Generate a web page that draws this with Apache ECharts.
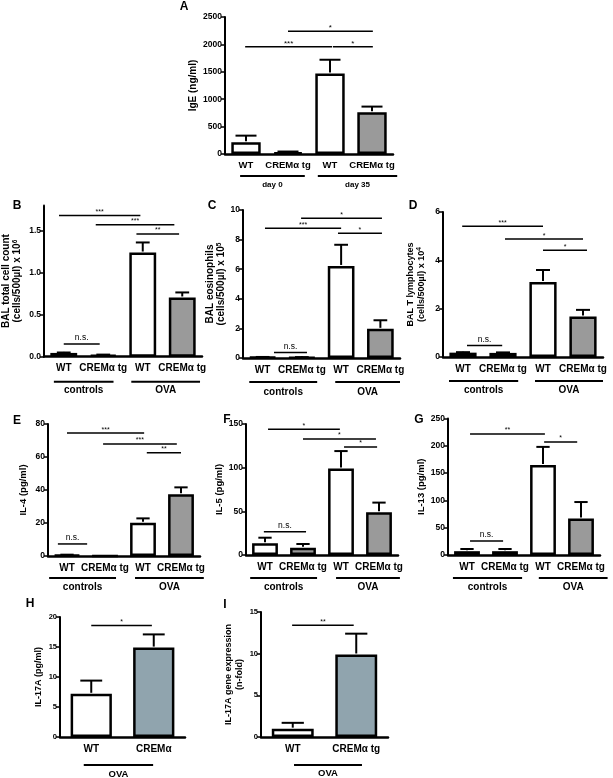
<!DOCTYPE html>
<html><head><meta charset="utf-8">
<script src="https://cdn.jsdelivr.net/npm/echarts@6/dist/echarts.min.js"></script>
<style>html,body{margin:0;padding:0;background:#fff}#c{width:613px;height:778px}</style>
</head><body><div id="c"></div>
<script>
// ---------- categories ----------
const catsFour = ['WT', 'CREMα tg', 'WT', 'CREMα tg'];
const catsH = ['WT', 'CREMα'];
const catsI = ['WT', 'CREMα tg'];
const groupsDays = ['day 0', 'day 35'];
const groupsCtrl = ['controls', 'OVA'];
const groupsOva = ['OVA'];

// ---------- values (mean, mean + SEM) ----------
const igeMean = [215, 30, 1470, 760];
const igeErr = [335, 45, 1720, 865];
const balTotalMean = [0.045, 0.02, 1.24, 0.705];
const balTotalErr = [0.05, 0.025, 1.36, 0.765];
const balEosMean = [0.06, 0.05, 6.22, 1.97];
const balEosErr = [0.07, 0.06, 7.65, 2.55];
const balTMean = [0.18, 0.17, 3.1, 1.68];
const balTErr = [0.2, 0.19, 3.6, 1.95];
const il4Mean = [0.6, 0, 20.1, 37.5];
const il4Err = [0.8, 0, 22.8, 41.6];
const il5Mean = [13.4, 8.4, 99, 49];
const il5Err = [19.8, 12.6, 119, 60];
const il13Mean = [7, 7, 165, 67];
const il13Err = [11, 11, 198, 97];
const il17Mean = [7.2, 14.9];
const il17Err = [9.4, 17.1];
const il17GeneMean = [1.0, 9.9];
const il17GeneErr = [1.7, 12.4];

// ---------- significance brackets: [from cat, to cat, y value, label] ----------
const sigA = [[1.0, 3.02, 2240, '*'], [-0.02, 2.05, 1955, '***'], [2.07, 3.02, 1955, '*']];
const sigB = [[-0.12, 1.94, 1.68, '***'], [0.81, 2.8, 1.57, '***'], [1.84, 2.92, 1.46, '**'], [0.0, 0.91, 0.15, 'n.s.']];
const sigC = [[0.98, 3.04, 9.44, '*'], [0.06, 2.0, 8.76, '***'], [1.92, 3.04, 8.43, '*'], [0.29, 1.13, 0.38, 'n.s.']];
const sigD = [[-0.02, 2.0, 5.41, '***'], [1.05, 3.0, 4.88, '*'], [2.0, 3.1, 4.42, '*'], [0.1, 0.98, 0.48, 'n.s.']];
const sigE = [[0.0, 2.03, 74.5, '***'], [0.95, 2.89, 67.9, '***'], [2.1, 3.0, 62.6, '**'], [-0.24, 0.53, 7.3, 'n.s.']];
const sigF = [[0.08, 1.97, 143.9, '*'], [1.0, 2.92, 132.8, '*'], [2.08, 2.95, 123.7, '*'], [-0.03, 1.08, 26.7, 'n.s.']];
const sigG = [[0.08, 2.05, 221.6, '**'], [2.03, 2.9, 207, '*'], [0.08, 0.95, 25.6, 'n.s.']];
const sigH = [[0.0, 0.97, 18.6, '*']];
const sigI = [[-0.01, 0.96, 13.4, '**']];

// ---------- tick values / labels ----------
const ticksIgE = [0, 500, 1000, 1500, 2000, 2500];
const ticksBalTotal = [0, 0.5, 1.0, 1.5];
const tickLabelsBalTotal = ['0.0', '0.5', '1.0', '1.5'];
const ticksEos = [0, 2, 4, 6, 8, 10];
const ticksT = [0, 2, 4, 6];
const ticksIL4 = [0, 20, 40, 60, 80];
const ticksIL5 = [0, 50, 100, 150];
const ticksIL13 = [0, 50, 100, 150, 200, 250];
const ticksIL17 = [0, 5, 10, 15, 20];
const ticksIL17Gene = [0, 5, 10, 15];

// ---------- styling / layout ----------
const FONT = '"Liberation Sans", Arial, sans-serif';
const WHITE = '#ffffff', GREY = '#9a9a9a', BLUEGREY = '#90a4ae';
const fillFour = [WHITE, GREY, WHITE, GREY];
const fillTwo = [WHITE, BLUEGREY];

const panels = [
  {letter: 'A', lpos: [184, 7], cats: catsFour, mean: igeMean, err: igeErr, fills: fillFour, ticks: ticksIgE, max: 2500,
   grid: [225, 17, 168, 137], name: 'IgE (ng/ml)', nameGap: 26, nameFont: 10, yFont: 8.5, xFont: 9.5, xMargin: 6,
   barW: '70%', cap: 0.5, sig: sigA, sigFont: 8, groups: groupsDays, spans: [[-0.14, 1.40], [1.71, 3.6]], gOff: [22, 31], gFont: 8},
  {letter: 'B', lpos: [17, 206], cats: catsFour, mean: balTotalMean, err: balTotalErr, fills: fillFour, ticks: ticksBalTotal, tickLabels: tickLabelsBalTotal, max: 1.8,
   grid: [43, 205.5, 159, 151.2], name: 'BAL total cell count\n(cells/500µl) x 10{sup|6}', nameGap: 21, nameFont: 10, yFont: 8.5, xFont: 10, xMargin: 7,
   barW: '68%', cap: 0.35, sig: sigB, sigFont: 7, groups: groupsCtrl, spans: [[-0.25, 1.26], [1.71, 3.45]], gOff: [25, 34], gFont: 10},
  {letter: 'C', lpos: [212, 206], cats: catsFour, mean: balEosMean, err: balEosErr, fills: fillFour, ticks: ticksEos, max: 10,
   grid: [243, 210, 157, 148], name: 'BAL eosinophils\n(cells/500µl) x 10{sup|5}', nameGap: 15, nameFont: 10, yFont: 8.5, xFont: 10, xMargin: 7,
   barW: '68%', cap: 0.35, sig: sigC, sigFont: 7, groups: groupsCtrl, spans: [[-0.34, 1.39], [1.85, 3.5]], gOff: [24, 34], gFont: 10},
  {letter: 'D', lpos: [413, 206], cats: catsFour, mean: balTMean, err: balTErr, fills: fillFour, ticks: ticksT, max: 6,
   grid: [443, 212, 160, 145], name: 'BAL T lymphocytes\n(cells/500µl) x 10{sup|4}', nameGap: 16, nameFont: 9, yFont: 8.5, xFont: 10, xMargin: 7,
   barW: '68%', cap: 0.35, sig: sigD, sigFont: 7, groups: groupsCtrl, spans: [[-0.35, 1.38], [1.8, 3.5]], gOff: [24, 33], gFont: 10},
  {letter: 'E', lpos: [17, 421], cats: catsFour, mean: il4Mean, err: il4Err, fills: fillFour, ticks: ticksIL4, max: 80,
   grid: [48, 424, 152, 132], name: 'IL-4 (pg/ml)', nameGap: 19, nameFont: 9.5, yFont: 8.5, xFont: 10, xMargin: 7,
   barW: '68%', cap: 0.35, sig: sigE, sigFont: 7, groups: groupsCtrl, spans: [[-0.47, 1.29], [1.79, 3.6]], gOff: [22, 31], gFont: 10},
  {letter: 'F', lpos: [227, 420], cats: catsFour, mean: il5Mean, err: il5Err, fills: fillFour, ticks: ticksIL5, max: 150,
   grid: [246, 424, 152, 131], name: 'IL-5 (pg/ml)', nameGap: 12, nameFont: 9.5, yFont: 8.5, xFont: 10, xMargin: 7,
   barW: '68%', cap: 0.35, sig: sigF, sigFont: 7, groups: groupsCtrl, spans: [[-0.39, 1.37], [1.87, 3.55]], gOff: [23, 32], gFont: 10},
  {letter: 'G', lpos: [419, 420], cats: catsFour, mean: il13Mean, err: il13Err, fills: fillFour, ticks: ticksIL13, max: 250,
   grid: [448, 418.5, 152, 136.5], name: 'IL-13 (pg/ml)', nameGap: 20, nameFont: 9.5, yFont: 8.5, xFont: 10, xMargin: 7,
   barW: '68%', cap: 0.35, sig: sigG, sigFont: 7, groups: groupsCtrl, spans: [[-0.37, 1.45], [1.89, 3.7]], gOff: [23, 32], gFont: 10},
  {letter: 'H', lpos: [30, 604], cats: catsH, mean: il17Mean, err: il17Err, fills: fillTwo, ticks: ticksIL17, max: 20,
   grid: [60, 617, 125, 120], name: 'IL-17A (pg/ml)', nameGap: 16, nameFont: 9, yFont: 7.5, xFont: 10, xMargin: 7,
   barW: '66%', cap: 0.35, sig: sigH, sigFont: 7, groups: groupsOva, spans: [[-0.12, 0.99]], gOff: [28, 37], gFont: 9.5},
  {letter: 'I', lpos: [225, 605], cats: catsI, mean: il17GeneMean, err: il17GeneErr, fills: fillTwo, ticks: ticksIL17Gene, max: 15,
   grid: [261, 612, 127, 125], name: 'IL-17A gene expression\n(n-fold)', nameGap: 16, nameFont: 9, yFont: 7.5, xFont: 10, xMargin: 7,
   barW: '66%', cap: 0.35, sig: sigI, sigFont: 7, groups: groupsOva, spans: [[0.02, 1.09]], gOff: [28, 36], gFont: 9.5}
];

const chart = echarts.init(document.getElementById('c'), null, {renderer: 'canvas'});
const option = {animation: false, backgroundColor: '#ffffff', grid: [], xAxis: [], yAxis: [], series: [], graphic: []};

panels.forEach((p, i) => {
  option.grid.push({left: p.grid[0], top: p.grid[1], width: p.grid[2], height: p.grid[3]});
  option.xAxis.push({
    gridIndex: i, type: 'category', data: p.cats,
    axisLine: {show: true, lineStyle: {color: '#000', width: 2.5}},
    axisTick: {show: false}, splitLine: {show: false},
    axisLabel: {interval: 0, color: '#000', fontFamily: FONT, fontWeight: 'bold', fontSize: p.xFont, margin: p.xMargin}
  });
  const labels = p.tickLabels || p.ticks.map(String);
  option.yAxis.push({
    gridIndex: i, type: 'value', min: 0, max: p.max, interval: p.ticks[1] - p.ticks[0],
    axisLine: {show: true, lineStyle: {color: '#000', width: 2}},
    axisTick: {show: true, inside: false, length: 4, lineStyle: {color: '#000', width: 1.5}, customValues: p.ticks},
    splitLine: {show: false},
    axisLabel: {customValues: p.ticks, color: '#000', fontFamily: FONT, fontWeight: 'bold', fontSize: p.yFont, margin: 3,
      formatter: v => { const k = p.ticks.findIndex(t => Math.abs(t - v) < 1e-9); return k < 0 ? '' : labels[k]; }},
    name: p.name, nameLocation: 'middle', nameRotate: 90, nameGap: p.nameGap,
    nameTextStyle: {color: '#000', fontFamily: FONT, fontWeight: 'bold', fontSize: p.nameFont, lineHeight: 11,
      rich: {sup: {color: '#000', fontFamily: FONT, fontWeight: 'bold', fontSize: 6.5, lineHeight: 11, verticalAlign: 'top', padding: [0, 0, 4, 0]}}}
  });
  // bars
  option.series.push({
    type: 'bar', xAxisIndex: i, yAxisIndex: i, barWidth: p.barW, z: 2, silent: true,
    data: p.mean.map((v, k) => ({value: v, itemStyle: {color: p.fills[k]}})),
    itemStyle: {borderColor: '#000', borderWidth: 2.5}
  });
  // error bars (upper)
  option.series.push({
    type: 'custom', xAxisIndex: i, yAxisIndex: i, z: 3, silent: true,
    data: p.mean.map((v, k) => [k, v, p.err[k]]),
    renderItem: (params, api) => {
      const m = api.value(1), e = api.value(2);
      if (!(e > m)) return null;
      const a = api.coord([api.value(0), m]), b = api.coord([api.value(0), e]);
      const half = api.size([1, 0])[0] * p.cap / 2;
      return {type: 'group', children: [
        {type: 'line', shape: {x1: a[0], y1: a[1] - 1, x2: b[0], y2: b[1]}, style: {stroke: '#000', lineWidth: 2}},
        {type: 'line', shape: {x1: b[0] - half, y1: b[1], x2: b[0] + half, y2: b[1]}, style: {stroke: '#000', lineWidth: 2}}
      ]};
    }
  });
  // significance brackets
  option.series.push({
    type: 'custom', xAxisIndex: i, yAxisIndex: i, z: 4, silent: true,
    data: p.sig.map(s => [0, s[2]]),
    renderItem: (params, api) => {
      const s = p.sig[params.dataIndex];
      const bw = api.size([1, 0])[0];
      const c0 = api.coord([0, s[2]]);
      const x1 = c0[0] + s[0] * bw, x2 = c0[0] + s[1] * bw, y = c0[1];
      const ns = s[3] === 'n.s.';
      return {type: 'group', children: [
        {type: 'line', shape: {x1: x1, y1: y, x2: x2, y2: y}, style: {stroke: '#000', lineWidth: 1.5}},
        {type: 'text', style: {text: s[3], x: (x1 + x2) / 2, y: ns ? y - 6 : y - 3.5, align: 'center', verticalAlign: 'middle',
          fontFamily: FONT, fontSize: ns ? 8.5 : p.sigFont, fontWeight: 'normal', fill: '#000'}}
      ]};
    }
  });
  // group lines below the axis
  option.series.push({
    type: 'custom', xAxisIndex: i, yAxisIndex: i, z: 4, silent: true, clip: false,
    data: p.groups.map(() => [0, 0]),
    renderItem: (params, api) => {
      const k = params.dataIndex;
      const sp = p.spans[k];
      const bw = api.size([1, 0])[0];
      const c0 = api.coord([0, 0]);
      const x1 = c0[0] + sp[0] * bw, x2 = c0[0] + sp[1] * bw;
      return {type: 'group', children: [
        {type: 'line', shape: {x1: x1, y1: c0[1] + p.gOff[0], x2: x2, y2: c0[1] + p.gOff[0]}, style: {stroke: '#000', lineWidth: 2}},
        {type: 'text', style: {text: p.groups[k], x: (x1 + x2) / 2, y: c0[1] + p.gOff[1], align: 'center', verticalAlign: 'middle',
          fontFamily: FONT, fontSize: p.gFont, fontWeight: 'bold', fill: '#000'}}
      ]};
    }
  });
  // panel letter
  option.graphic.push({type: 'text', x: p.lpos[0], y: p.lpos[1], silent: true,
    style: {text: p.letter, align: 'center', verticalAlign: 'middle', fontFamily: FONT, fontSize: 12, fontWeight: 'bold', fill: '#000'}});
});

chart.setOption(option);
</script>
</body></html>
